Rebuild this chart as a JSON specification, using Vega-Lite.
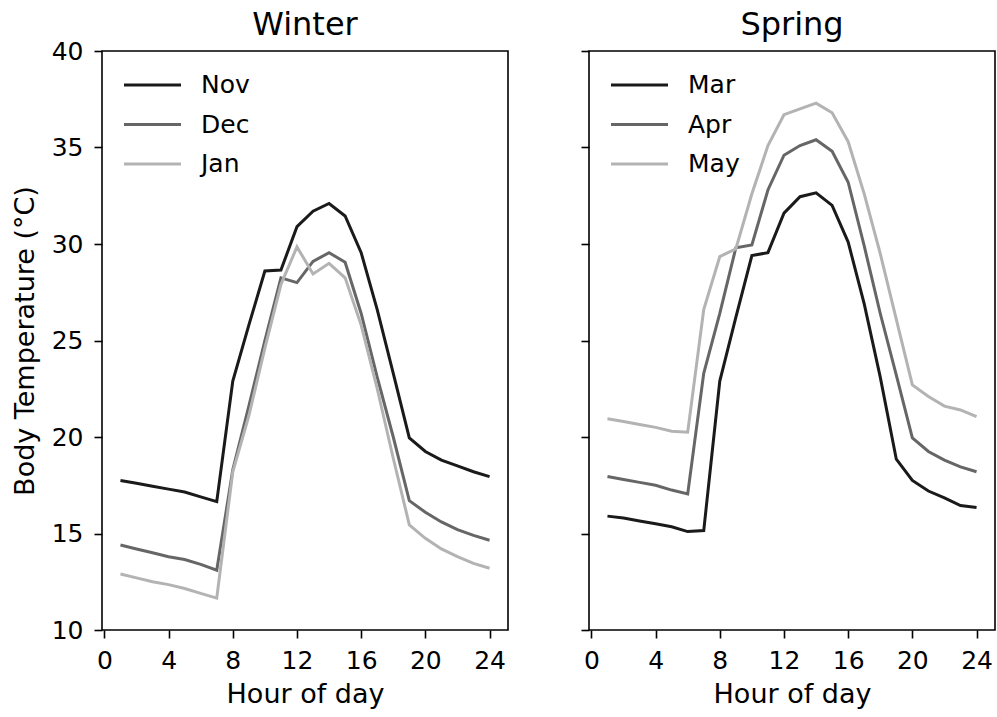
{
  "$schema": "https://vega.github.io/schema/vega-lite/v6.json",
  "background": "white",
  "padding": {"left": 10, "top": 8, "right": 2, "bottom": 2},
  "config": {
    "font": "DejaVu Sans",
    "view": {"stroke": "black", "strokeWidth": 1.6},
    "axis": {
      "grid": false,
      "domain": false,
      "tickColor": "black",
      "tickWidth": 1.6,
      "tickSize": 8,
      "labelFontSize": 25,
      "labelColor": "black",
      "labelFont": "DejaVu Sans",
      "titleFontSize": 27,
      "titleFont": "DejaVu Sans",
      "titleFontWeight": "normal",
      "titleColor": "black"
    },
    "title": {"fontSize": 32, "fontWeight": "normal", "font": "DejaVu Sans", "color": "black", "frame": "group"},
    "legend": {
      "orient": "none",
      "legendX": 20,
      "legendY": 19,
      "padding": 0,
      "title": null,
      "symbolType": "stroke",
      "symbolSize": 3250,
      "symbolStrokeWidth": 3,
      "clipHeight": 30,
      "rowPadding": 9.5,
      "labelOffset": 18,
      "labelFontSize": 25,
      "labelFont": "DejaVu Sans",
      "labelColor": "black"
    }
  },
  "data": {"values": [
    {"season": "Winter", "month": "Nov", "hour": 1, "temp": 17.75},
    {"season": "Winter", "month": "Nov", "hour": 2, "temp": 17.6},
    {"season": "Winter", "month": "Nov", "hour": 3, "temp": 17.45},
    {"season": "Winter", "month": "Nov", "hour": 4, "temp": 17.3},
    {"season": "Winter", "month": "Nov", "hour": 5, "temp": 17.15},
    {"season": "Winter", "month": "Nov", "hour": 6, "temp": 16.9},
    {"season": "Winter", "month": "Nov", "hour": 7, "temp": 16.65},
    {"season": "Winter", "month": "Nov", "hour": 8, "temp": 22.9},
    {"season": "Winter", "month": "Nov", "hour": 9, "temp": 25.8},
    {"season": "Winter", "month": "Nov", "hour": 10, "temp": 28.6},
    {"season": "Winter", "month": "Nov", "hour": 11, "temp": 28.65},
    {"season": "Winter", "month": "Nov", "hour": 12, "temp": 30.9},
    {"season": "Winter", "month": "Nov", "hour": 13, "temp": 31.7},
    {"season": "Winter", "month": "Nov", "hour": 14, "temp": 32.1},
    {"season": "Winter", "month": "Nov", "hour": 15, "temp": 31.45},
    {"season": "Winter", "month": "Nov", "hour": 16, "temp": 29.55},
    {"season": "Winter", "month": "Nov", "hour": 17, "temp": 26.6},
    {"season": "Winter", "month": "Nov", "hour": 18, "temp": 23.3},
    {"season": "Winter", "month": "Nov", "hour": 19, "temp": 19.95},
    {"season": "Winter", "month": "Nov", "hour": 20, "temp": 19.25},
    {"season": "Winter", "month": "Nov", "hour": 21, "temp": 18.8},
    {"season": "Winter", "month": "Nov", "hour": 22, "temp": 18.5},
    {"season": "Winter", "month": "Nov", "hour": 23, "temp": 18.2},
    {"season": "Winter", "month": "Nov", "hour": 24, "temp": 17.95},
    {"season": "Winter", "month": "Dec", "hour": 1, "temp": 14.4},
    {"season": "Winter", "month": "Dec", "hour": 2, "temp": 14.2},
    {"season": "Winter", "month": "Dec", "hour": 3, "temp": 14.0},
    {"season": "Winter", "month": "Dec", "hour": 4, "temp": 13.8},
    {"season": "Winter", "month": "Dec", "hour": 5, "temp": 13.65},
    {"season": "Winter", "month": "Dec", "hour": 6, "temp": 13.4},
    {"season": "Winter", "month": "Dec", "hour": 7, "temp": 13.1},
    {"season": "Winter", "month": "Dec", "hour": 8, "temp": 18.3},
    {"season": "Winter", "month": "Dec", "hour": 9, "temp": 21.6},
    {"season": "Winter", "month": "Dec", "hour": 10, "temp": 25.0},
    {"season": "Winter", "month": "Dec", "hour": 11, "temp": 28.25},
    {"season": "Winter", "month": "Dec", "hour": 12, "temp": 28.0},
    {"season": "Winter", "month": "Dec", "hour": 13, "temp": 29.1},
    {"season": "Winter", "month": "Dec", "hour": 14, "temp": 29.55},
    {"season": "Winter", "month": "Dec", "hour": 15, "temp": 29.05},
    {"season": "Winter", "month": "Dec", "hour": 16, "temp": 26.4},
    {"season": "Winter", "month": "Dec", "hour": 17, "temp": 23.1},
    {"season": "Winter", "month": "Dec", "hour": 18, "temp": 20.0},
    {"season": "Winter", "month": "Dec", "hour": 19, "temp": 16.7},
    {"season": "Winter", "month": "Dec", "hour": 20, "temp": 16.1},
    {"season": "Winter", "month": "Dec", "hour": 21, "temp": 15.6},
    {"season": "Winter", "month": "Dec", "hour": 22, "temp": 15.2},
    {"season": "Winter", "month": "Dec", "hour": 23, "temp": 14.9},
    {"season": "Winter", "month": "Dec", "hour": 24, "temp": 14.65},
    {"season": "Winter", "month": "Jan", "hour": 1, "temp": 12.9},
    {"season": "Winter", "month": "Jan", "hour": 2, "temp": 12.7},
    {"season": "Winter", "month": "Jan", "hour": 3, "temp": 12.5},
    {"season": "Winter", "month": "Jan", "hour": 4, "temp": 12.35},
    {"season": "Winter", "month": "Jan", "hour": 5, "temp": 12.15},
    {"season": "Winter", "month": "Jan", "hour": 6, "temp": 11.9},
    {"season": "Winter", "month": "Jan", "hour": 7, "temp": 11.65},
    {"season": "Winter", "month": "Jan", "hour": 8, "temp": 18.2},
    {"season": "Winter", "month": "Jan", "hour": 9, "temp": 21.1},
    {"season": "Winter", "month": "Jan", "hour": 10, "temp": 24.6},
    {"season": "Winter", "month": "Jan", "hour": 11, "temp": 27.9},
    {"season": "Winter", "month": "Jan", "hour": 12, "temp": 29.85},
    {"season": "Winter", "month": "Jan", "hour": 13, "temp": 28.45},
    {"season": "Winter", "month": "Jan", "hour": 14, "temp": 29.0},
    {"season": "Winter", "month": "Jan", "hour": 15, "temp": 28.25},
    {"season": "Winter", "month": "Jan", "hour": 16, "temp": 25.8},
    {"season": "Winter", "month": "Jan", "hour": 17, "temp": 22.5},
    {"season": "Winter", "month": "Jan", "hour": 18, "temp": 18.9},
    {"season": "Winter", "month": "Jan", "hour": 19, "temp": 15.45},
    {"season": "Winter", "month": "Jan", "hour": 20, "temp": 14.75},
    {"season": "Winter", "month": "Jan", "hour": 21, "temp": 14.2},
    {"season": "Winter", "month": "Jan", "hour": 22, "temp": 13.8},
    {"season": "Winter", "month": "Jan", "hour": 23, "temp": 13.45},
    {"season": "Winter", "month": "Jan", "hour": 24, "temp": 13.2},
    {"season": "Spring", "month": "Mar", "hour": 1, "temp": 15.9},
    {"season": "Spring", "month": "Mar", "hour": 2, "temp": 15.8},
    {"season": "Spring", "month": "Mar", "hour": 3, "temp": 15.65},
    {"season": "Spring", "month": "Mar", "hour": 4, "temp": 15.5},
    {"season": "Spring", "month": "Mar", "hour": 5, "temp": 15.35},
    {"season": "Spring", "month": "Mar", "hour": 6, "temp": 15.1},
    {"season": "Spring", "month": "Mar", "hour": 7, "temp": 15.15},
    {"season": "Spring", "month": "Mar", "hour": 8, "temp": 22.9},
    {"season": "Spring", "month": "Mar", "hour": 9, "temp": 26.2},
    {"season": "Spring", "month": "Mar", "hour": 10, "temp": 29.4},
    {"season": "Spring", "month": "Mar", "hour": 11, "temp": 29.55},
    {"season": "Spring", "month": "Mar", "hour": 12, "temp": 31.6},
    {"season": "Spring", "month": "Mar", "hour": 13, "temp": 32.45},
    {"season": "Spring", "month": "Mar", "hour": 14, "temp": 32.65},
    {"season": "Spring", "month": "Mar", "hour": 15, "temp": 32.0},
    {"season": "Spring", "month": "Mar", "hour": 16, "temp": 30.1},
    {"season": "Spring", "month": "Mar", "hour": 17, "temp": 26.9},
    {"season": "Spring", "month": "Mar", "hour": 18, "temp": 23.1},
    {"season": "Spring", "month": "Mar", "hour": 19, "temp": 18.85},
    {"season": "Spring", "month": "Mar", "hour": 20, "temp": 17.75},
    {"season": "Spring", "month": "Mar", "hour": 21, "temp": 17.2},
    {"season": "Spring", "month": "Mar", "hour": 22, "temp": 16.85},
    {"season": "Spring", "month": "Mar", "hour": 23, "temp": 16.45},
    {"season": "Spring", "month": "Mar", "hour": 24, "temp": 16.35},
    {"season": "Spring", "month": "Apr", "hour": 1, "temp": 17.95},
    {"season": "Spring", "month": "Apr", "hour": 2, "temp": 17.8},
    {"season": "Spring", "month": "Apr", "hour": 3, "temp": 17.65},
    {"season": "Spring", "month": "Apr", "hour": 4, "temp": 17.5},
    {"season": "Spring", "month": "Apr", "hour": 5, "temp": 17.25},
    {"season": "Spring", "month": "Apr", "hour": 6, "temp": 17.05},
    {"season": "Spring", "month": "Apr", "hour": 7, "temp": 23.3},
    {"season": "Spring", "month": "Apr", "hour": 8, "temp": 26.4},
    {"season": "Spring", "month": "Apr", "hour": 9, "temp": 29.8},
    {"season": "Spring", "month": "Apr", "hour": 10, "temp": 29.95},
    {"season": "Spring", "month": "Apr", "hour": 11, "temp": 32.8},
    {"season": "Spring", "month": "Apr", "hour": 12, "temp": 34.6},
    {"season": "Spring", "month": "Apr", "hour": 13, "temp": 35.1},
    {"season": "Spring", "month": "Apr", "hour": 14, "temp": 35.4},
    {"season": "Spring", "month": "Apr", "hour": 15, "temp": 34.8},
    {"season": "Spring", "month": "Apr", "hour": 16, "temp": 33.2},
    {"season": "Spring", "month": "Apr", "hour": 17, "temp": 29.9},
    {"season": "Spring", "month": "Apr", "hour": 18, "temp": 26.4},
    {"season": "Spring", "month": "Apr", "hour": 19, "temp": 23.2},
    {"season": "Spring", "month": "Apr", "hour": 20, "temp": 19.95},
    {"season": "Spring", "month": "Apr", "hour": 21, "temp": 19.25},
    {"season": "Spring", "month": "Apr", "hour": 22, "temp": 18.8},
    {"season": "Spring", "month": "Apr", "hour": 23, "temp": 18.45},
    {"season": "Spring", "month": "Apr", "hour": 24, "temp": 18.2},
    {"season": "Spring", "month": "May", "hour": 1, "temp": 20.95},
    {"season": "Spring", "month": "May", "hour": 2, "temp": 20.8},
    {"season": "Spring", "month": "May", "hour": 3, "temp": 20.65},
    {"season": "Spring", "month": "May", "hour": 4, "temp": 20.5},
    {"season": "Spring", "month": "May", "hour": 5, "temp": 20.3},
    {"season": "Spring", "month": "May", "hour": 6, "temp": 20.25},
    {"season": "Spring", "month": "May", "hour": 7, "temp": 26.6},
    {"season": "Spring", "month": "May", "hour": 8, "temp": 29.35},
    {"season": "Spring", "month": "May", "hour": 9, "temp": 29.75},
    {"season": "Spring", "month": "May", "hour": 10, "temp": 32.6},
    {"season": "Spring", "month": "May", "hour": 11, "temp": 35.1},
    {"season": "Spring", "month": "May", "hour": 12, "temp": 36.7},
    {"season": "Spring", "month": "May", "hour": 13, "temp": 37.0},
    {"season": "Spring", "month": "May", "hour": 14, "temp": 37.3},
    {"season": "Spring", "month": "May", "hour": 15, "temp": 36.8},
    {"season": "Spring", "month": "May", "hour": 16, "temp": 35.3},
    {"season": "Spring", "month": "May", "hour": 17, "temp": 32.6},
    {"season": "Spring", "month": "May", "hour": 18, "temp": 29.5},
    {"season": "Spring", "month": "May", "hour": 19, "temp": 26.1},
    {"season": "Spring", "month": "May", "hour": 20, "temp": 22.7},
    {"season": "Spring", "month": "May", "hour": 21, "temp": 22.1},
    {"season": "Spring", "month": "May", "hour": 22, "temp": 21.6},
    {"season": "Spring", "month": "May", "hour": 23, "temp": 21.4},
    {"season": "Spring", "month": "May", "hour": 24, "temp": 21.05}
  ]},
  "spacing": 70,
  "resolve": {"scale": {"color": "independent"}, "legend": {"color": "independent"}},
  "hconcat": [
    {
      "width": 406,
      "height": 579,
      "title": {"text": "Winter", "offset": -3},
      "transform": [{"filter": "datum.season === 'Winter'"}],
      "mark": {"type": "line", "strokeWidth": 3},
      "encoding": {
        "x": {"field": "hour", "type": "quantitative",
              "scale": {"domain": [-0.15, 25.15], "nice": false, "zero": false},
              "axis": {"values": [0, 4, 8, 12, 16, 20, 24], "title": "Hour of day", "labelPadding": 10, "titlePadding": 8}},
        "y": {"field": "temp", "type": "quantitative",
              "scale": {"domain": [10, 40], "nice": false, "zero": false},
              "axis": {"values": [10, 15, 20, 25, 30, 35, 40], "title": "Body Temperature (°C)", "labelPadding": 11, "titlePadding": 12}},
        "color": {"field": "month", "type": "nominal",
                  "scale": {"domain": ["Nov", "Dec", "Jan"], "range": ["#1a1a1a", "#666666", "#b3b3b3"]}}
      }
    },
    {
      "width": 406,
      "height": 579,
      "title": {"text": "Spring", "offset": 8},
      "transform": [{"filter": "datum.season === 'Spring'"}],
      "mark": {"type": "line", "strokeWidth": 3},
      "encoding": {
        "x": {"field": "hour", "type": "quantitative",
              "scale": {"domain": [-0.15, 25.15], "nice": false, "zero": false},
              "axis": {"values": [0, 4, 8, 12, 16, 20, 24], "title": "Hour of day", "labelPadding": 10, "titlePadding": 8}},
        "y": {"field": "temp", "type": "quantitative",
              "scale": {"domain": [10, 40], "nice": false, "zero": false},
              "axis": {"values": [10, 15, 20, 25, 30, 35, 40], "labels": false, "title": null}},
        "color": {"field": "month", "type": "nominal",
                  "scale": {"domain": ["Mar", "Apr", "May"], "range": ["#1a1a1a", "#666666", "#b3b3b3"]}}
      }
    }
  ]
}
